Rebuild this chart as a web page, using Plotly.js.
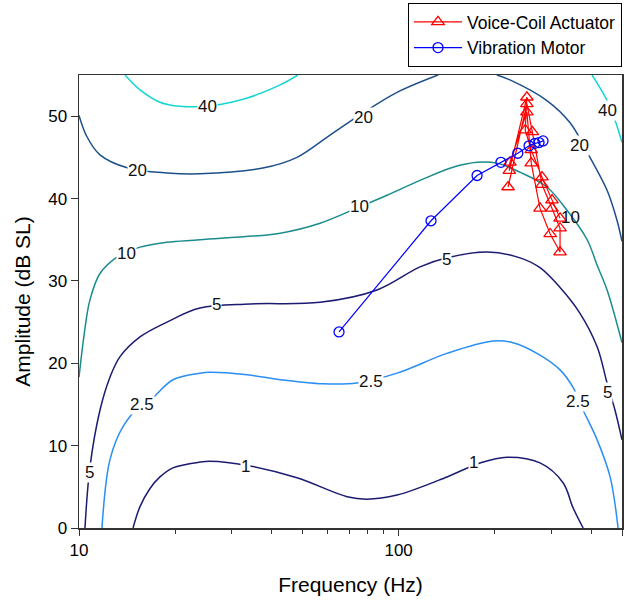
<!DOCTYPE html>
<html>
<head>
<meta charset="utf-8">
<script src="https://cdn.plot.ly/plotly-3.0.1.min.js"></script>
<style>html,body{margin:0;padding:0;background:#fff;}#chart{width:636px;height:603px;}</style>
</head>
<body>
<div id="chart"></div>
<script>
// ---- Measured series ----
var vcaFreq = [220, 252, 262, 281, 302, 320, 320, 298, 277, 260, 252, 223, 222, 252, 249, 260, 281, 302, 320];
var vcaAmp  = [41.4, 51.5, 48.1, 41.7, 38.8, 36.4, 33.5, 35.7, 38.8, 44.3, 50.5, 44.4, 43.4, 52.3, 48.3, 45.9, 42.6, 39.8, 37.6];

var vmFreq = [65.1, 126.3, 176, 209, 236, 256, 267, 275, 283];
var vmAmp  = [23.8, 37.3, 42.8, 44.4, 45.5, 46.4, 46.7, 46.8, 47.0];

// ---- Iso-contours ----
var c40aF = [13.93, 15.52, 17.92, 20.7, 26.3, 33.6, 42.6, 48.4];
var c40aA = [55, 53.2, 51.7, 51.2, 51.3, 52.2, 53.8, 55];
var c40bF = [402.8, 412, 449, 475.5, 500];
var c40bA = [55, 54.4, 51.9, 49.5, 46.8];

var c20aF = [10, 10.59, 11.63, 14.23, 18.85, 23.9, 37.6, 48.1, 61.0, 77.4, 98.9, 132.9];
var c20aA = [50.1, 47.5, 45.3, 43.7, 43.1, 43.0, 43.7, 45.0, 47.7, 50.4, 52.9, 55];
var c20bF = [203, 223, 291, 344, 397, 449, 482, 500];
var c20bA = [55, 54.4, 51.9, 49.2, 45.0, 41.0, 37.4, 34.8];

var c10F = [10, 10.37, 10.82, 11.63, 13.15, 15.52, 18.85, 23.9, 42.6, 56.8, 75.7, 92.0, 116.7, 148, 176, 203, 239.8, 291, 336, 389, 418, 449, 500];
var c10A = [18.3, 23.4, 27.7, 30.9, 32.9, 34.1, 34.7, 35.0, 35.8, 37.0, 39.0, 40.4, 42.2, 43.8, 44.4, 44.3, 43.2, 41.4, 38.6, 35.0, 31.9, 28.9, 22.5];

var c5F = [10.44, 10.82, 11.63, 12.50, 13.44, 15.52, 18.85, 23.9, 34.3, 56.8, 85.6, 116.7, 141.7, 189, 239.8, 277, 320, 369, 418, 449, 475.5, 500];
var c5A = [0, 7.4, 14.3, 18.3, 20.8, 23.2, 25.0, 26.7, 27.2, 27.4, 28.9, 31.7, 32.8, 33.5, 32.8, 31.6, 29.2, 26.1, 22.0, 17.6, 14.3, 10.7];

var c25F = [11.80, 12.50, 13.73, 15.75, 16.68, 19.68, 23.9, 25.7, 33.6, 42.6, 58.0, 74.1, 98.9, 141.7, 197.4, 228, 277, 320, 351, 378, 418, 459, 486];
var c25A = [0, 8.3, 12.3, 15.0, 15.5, 18.0, 18.8, 18.9, 18.6, 18.0, 17.5, 17.6, 18.8, 21.2, 22.7, 22.5, 21.0, 19.2, 17.1, 14.3, 10.7, 6.2, 0];

var c1F = [14.76, 15.52, 16.68, 17.92, 19.68, 23.9, 25.7, 33.6, 48.1, 69.0, 79.6, 98.9, 141.7, 179.8, 218.4, 277, 327, 351, 378];
var c1A = [0, 2.6, 4.8, 6.2, 7.3, 8.0, 8.1, 7.6, 6.1, 3.8, 3.5, 4.0, 6.2, 7.9, 8.6, 7.9, 5.5, 2.5, 0];

// ---- Contour labels ----
var labelText = ["40", "40", "20", "20", "20", "10", "10", "10", "5", "5", "5", "5", "2.5", "2.5", "2.5", "1", "1"];
var labelFreq = [25.3, 449, 15.2, 77.4, 369, 14.1, 75.7, 346, 27.0, 141.7, 452, 10.82, 15.75, 81.9, 364, 33.1, 171];
var labelAmp  = [51.2, 50.7, 43.4, 49.9, 46.4, 33.3, 39.0, 37.7, 27.1, 32.6, 16.5, 6.7, 15.0, 17.8, 15.3, 7.5, 7.9];

// ---- Axis ticks ----
var xTickVals = [10, 100, 500];
var xTickText = ["10", "100", "500"];
var xMinorVals = [20, 30, 40, 50, 60, 70, 80, 90, 200, 300, 400];
var yTickVals = [0, 10, 20, 30, 40, 50];

var FONT = "Liberation Sans, Arial, Helvetica, sans-serif";
var navy = "#1b1b72", steel = "#1d4f8c", teal = "#1a8c8c", cyan = "#12d6d6", dodger = "#2a8ef2";

function contour(f, a, color) {
  return {x: f, y: a, type: "scatter", mode: "lines", showlegend: false, hoverinfo: "skip",
          line: {color: color, width: 1.5, shape: "spline", smoothing: 1}};
}

var traces = [
  contour(c40aF, c40aA, cyan), contour(c40bF, c40bA, cyan),
  contour(c20aF, c20aA, steel), contour(c20bF, c20bA, steel),
  contour(c10F, c10A, teal),
  contour(c5F, c5A, navy),
  contour(c25F, c25A, dodger),
  contour(c1F, c1A, navy),
  {x: vcaFreq, y: vcaAmp, type: "scatter", mode: "lines+markers", name: "Voice-Coil Actuator",
   line: {color: "#ff0000", width: 1.2},
   marker: {symbol: "triangle-up-open", size: 11, color: "#ff0000", line: {width: 1.3, color: "#ff0000"}}},
  {x: vmFreq, y: vmAmp, type: "scatter", mode: "lines+markers", name: "Vibration Motor",
   line: {color: "#0000ff", width: 1.2},
   marker: {symbol: "circle-open", size: 10, color: "#0000ff", line: {width: 1.3, color: "#0000ff"}}}
];

var annotations = labelText.map(function (t, i) {
  var nearMarkers = (t === "10" && labelFreq[i] > 300);
  return {x: Math.log10(labelFreq[i]), y: labelAmp[i], xref: "x", yref: "y", text: t, showarrow: false,
          font: {family: FONT, size: 17, color: "#111"},
          bgcolor: nearMarkers ? "rgba(0,0,0,0)" : "#ffffff", borderpad: 0};
});

var layout = {
  width: 636, height: 603,
  margin: {l: 79, r: 14, t: 75, b: 75, autoexpand: false},
  paper_bgcolor: "#ffffff", plot_bgcolor: "#ffffff",
  font: {family: FONT, size: 17, color: "#000"},
  showlegend: true,
  legend: {x: 1, xanchor: "right", y: 1.0177, yanchor: "bottom", bgcolor: "#ffffff",
           bordercolor: "#000", borderwidth: 1, font: {family: FONT, size: 17.5, color: "#000"},
           itemwidth: 48, tracegroupgap: 0},
  xaxis: {type: "log", range: [1, Math.log10(500)], tickmode: "array", tickvals: xTickVals, ticktext: xTickText,
          ticks: "outside", ticklen: 6, tickwidth: 1, tickcolor: "#333",
          minor: {tickmode: "array", tickvals: xMinorVals, ticks: "outside", ticklen: 4, tickwidth: 1, tickcolor: "#333", showgrid: false},
          showline: true, linecolor: "#333", linewidth: 1.5, mirror: true, showgrid: false, zeroline: false,
          tickfont: {family: FONT, size: 17, color: "#000"},
          title: {text: "Frequency (Hz)", font: {family: FONT, size: 21, color: "#000"}, standoff: 18}},
  yaxis: {range: [0, 55], tickmode: "array", tickvals: yTickVals, ticks: "outside", ticklen: 7, tickwidth: 1, tickcolor: "#333",
          showline: true, linecolor: "#333", linewidth: 1.5, mirror: true, showgrid: false, zeroline: false,
          tickfont: {family: FONT, size: 17, color: "#000"},
          title: {text: "Amplitude (dB SL)", font: {family: FONT, size: 21, color: "#000"}, standoff: 12}},
  annotations: annotations
};

Plotly.newPlot("chart", traces, layout, {displayModeBar: false, staticPlot: true});
</script>
</body>
</html>
